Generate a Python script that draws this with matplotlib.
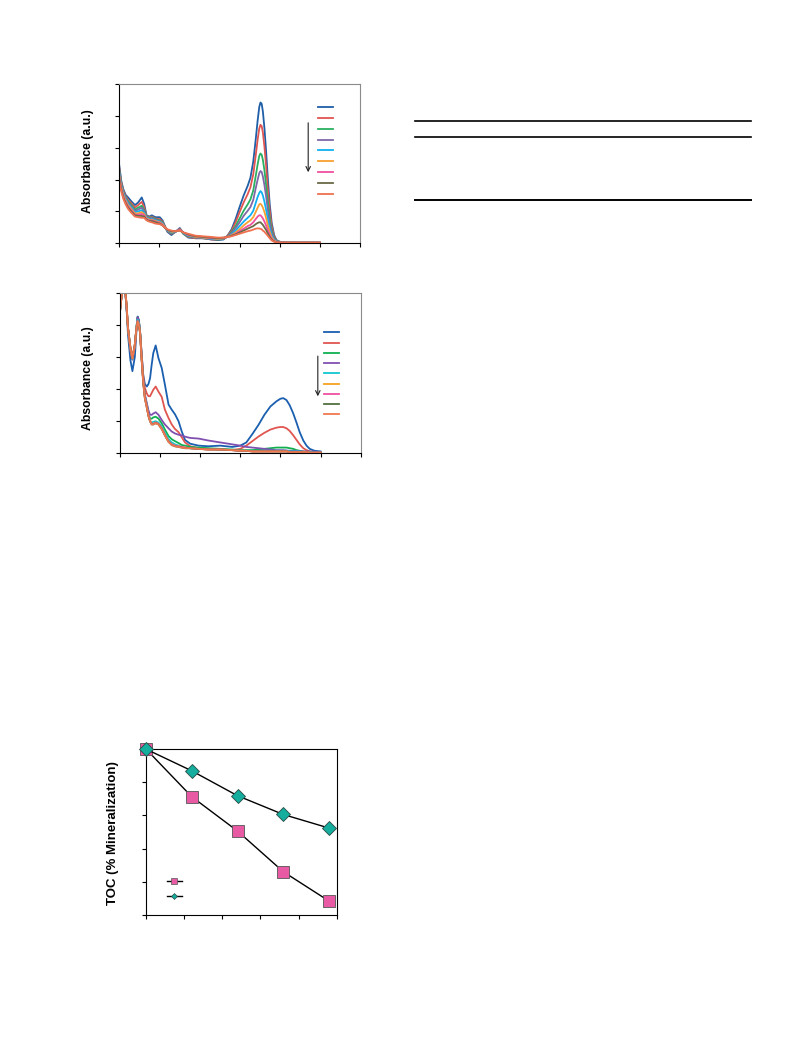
import matplotlib
matplotlib.use("Agg")
import matplotlib.pyplot as plt
from matplotlib.lines import Line2D

plt.rcParams['font.family'] = ['Liberation Sans', 'DejaVu Sans']

# ---- panel (a): UV-vis spectra, band near 553 nm ----
wl_a = [200, 205, 210, 216, 222, 230, 239, 247, 256, 262, 268, 275, 281, 290, 301,
        308, 313, 320, 330, 340, 351, 360, 372, 390, 410, 430, 445,
        460, 470, 480, 490, 500, 510, 520, 527, 534, 540, 545, 549, 552, 555, 558,
        562, 566, 570, 575, 580, 586, 592, 600, 615, 640, 700]
abs_a = [
    [1.22, 0.98, 0.85, 0.76, 0.72, 0.66, 0.60, 0.64, 0.72, 0.62, 0.44, 0.42, 0.44, 0.41, 0.41,
     0.36, 0.28, 0.18, 0.13, 0.18, 0.24, 0.15, 0.09, 0.08, 0.08, 0.06, 0.05,
     0.06, 0.12, 0.22, 0.38, 0.57, 0.75, 0.90, 1.03, 1.28, 1.62, 1.93, 2.14, 2.21, 2.19, 2.07,
     1.80, 1.45, 1.05, 0.62, 0.32, 0.13, 0.05, 0.025, 0.012, 0.01, 0.01],
    [1.18, 0.96, 0.83, 0.74, 0.68, 0.63, 0.56, 0.60, 0.65, 0.57, 0.43, 0.41, 0.42, 0.39, 0.38,
     0.34, 0.28, 0.19, 0.15, 0.18, 0.23, 0.15, 0.10, 0.08, 0.08, 0.06, 0.06,
     0.07, 0.12, 0.20, 0.33, 0.49, 0.64, 0.77, 0.88, 1.08, 1.37, 1.63, 1.80, 1.86, 1.84, 1.74,
     1.51, 1.22, 0.88, 0.52, 0.27, 0.11, 0.045, 0.022, 0.012, 0.01, 0.01],
    [1.15, 0.94, 0.81, 0.72, 0.66, 0.60, 0.53, 0.56, 0.59, 0.53, 0.42, 0.40, 0.41, 0.38, 0.36,
     0.33, 0.27, 0.20, 0.16, 0.18, 0.22, 0.15, 0.11, 0.09, 0.08, 0.07, 0.06,
     0.07, 0.11, 0.18, 0.27, 0.39, 0.51, 0.61, 0.69, 0.83, 1.05, 1.24, 1.37, 1.41, 1.39, 1.31,
     1.14, 0.92, 0.67, 0.40, 0.21, 0.09, 0.04, 0.02, 0.012, 0.01, 0.01],
    [1.13, 0.92, 0.80, 0.71, 0.64, 0.58, 0.51, 0.53, 0.56, 0.51, 0.41, 0.39, 0.40, 0.37, 0.35,
     0.32, 0.27, 0.20, 0.17, 0.18, 0.22, 0.16, 0.12, 0.09, 0.08, 0.07, 0.07,
     0.08, 0.11, 0.16, 0.24, 0.33, 0.43, 0.51, 0.57, 0.68, 0.86, 1.00, 1.10, 1.135, 1.12, 1.05,
     0.91, 0.74, 0.54, 0.32, 0.17, 0.075, 0.035, 0.02, 0.012, 0.01, 0.01],
    [1.10, 0.90, 0.78, 0.69, 0.62, 0.56, 0.49, 0.50, 0.52, 0.48, 0.40, 0.38, 0.38, 0.36, 0.34,
     0.31, 0.26, 0.20, 0.17, 0.19, 0.21, 0.16, 0.12, 0.10, 0.09, 0.07, 0.07,
     0.08, 0.10, 0.14, 0.20, 0.27, 0.34, 0.40, 0.44, 0.51, 0.63, 0.73, 0.79, 0.82, 0.80, 0.75,
     0.65, 0.53, 0.39, 0.23, 0.12, 0.055, 0.028, 0.018, 0.012, 0.01, 0.01],
    [1.07, 0.88, 0.76, 0.67, 0.60, 0.54, 0.47, 0.47, 0.49, 0.46, 0.39, 0.37, 0.37, 0.35, 0.33,
     0.30, 0.26, 0.21, 0.18, 0.19, 0.21, 0.17, 0.13, 0.10, 0.09, 0.08, 0.07,
     0.08, 0.10, 0.13, 0.17, 0.22, 0.28, 0.33, 0.36, 0.41, 0.49, 0.56, 0.61, 0.62, 0.60, 0.56,
     0.49, 0.40, 0.29, 0.18, 0.095, 0.045, 0.025, 0.016, 0.011, 0.01, 0.01],
    [1.04, 0.86, 0.74, 0.65, 0.58, 0.52, 0.45, 0.45, 0.46, 0.44, 0.38, 0.36, 0.36, 0.34, 0.32,
     0.29, 0.25, 0.21, 0.19, 0.19, 0.21, 0.17, 0.13, 0.11, 0.10, 0.08, 0.08,
     0.08, 0.10, 0.12, 0.15, 0.19, 0.23, 0.27, 0.29, 0.33, 0.38, 0.42, 0.44, 0.44, 0.42, 0.39,
     0.34, 0.28, 0.21, 0.13, 0.07, 0.035, 0.02, 0.014, 0.01, 0.01, 0.01],
    [1.01, 0.84, 0.72, 0.63, 0.56, 0.50, 0.44, 0.43, 0.43, 0.42, 0.37, 0.35, 0.35, 0.33, 0.31,
     0.28, 0.25, 0.21, 0.19, 0.19, 0.20, 0.17, 0.14, 0.11, 0.10, 0.09, 0.08,
     0.09, 0.10, 0.12, 0.14, 0.17, 0.20, 0.23, 0.25, 0.27, 0.30, 0.32, 0.33, 0.33, 0.31, 0.29,
     0.25, 0.21, 0.16, 0.10, 0.055, 0.03, 0.018, 0.012, 0.01, 0.01, 0.01],
    [0.98, 0.82, 0.70, 0.61, 0.54, 0.48, 0.42, 0.41, 0.40, 0.40, 0.36, 0.34, 0.33, 0.31, 0.30,
     0.28, 0.25, 0.22, 0.20, 0.19, 0.20, 0.17, 0.15, 0.12, 0.11, 0.10, 0.09,
     0.09, 0.10, 0.11, 0.13, 0.15, 0.17, 0.19, 0.20, 0.215, 0.23, 0.235, 0.233, 0.228, 0.22, 0.20,
     0.18, 0.15, 0.12, 0.08, 0.045, 0.025, 0.015, 0.01, 0.01, 0.01, 0.01],
]
colors_a = ['#1f5fa8', '#e05550', '#2ab060', '#8068a8', '#10b0f0',
            '#f8a030', '#f050a0', '#6a6a48', '#f07050']

# ---- panel (b): UV-vis spectra, band near 607 nm ----
wl_b = [200, 204, 208, 212, 216, 220, 226, 231, 237, 241, 244, 247, 250, 254, 258,
        262, 267, 271, 275, 279, 283, 289, 296, 304, 312, 321, 329, 337, 346, 354,
        362, 375, 396, 420, 450,
        480, 500, 515, 530, 545, 560, 575, 590, 600, 607, 615, 623, 632, 640, 648,
        657, 665, 673, 685, 700]
abs_b = [
    [2.35, 2.50, 2.60, 2.60, 2.30, 1.85, 1.45, 1.28, 1.50, 1.90, 2.13, 2.08, 1.90, 1.55, 1.22,
     1.08, 1.04, 1.08, 1.17, 1.38, 1.56, 1.68, 1.48, 1.33, 1.07, 0.76, 0.68, 0.61, 0.50, 0.34,
     0.21, 0.15, 0.12, 0.11, 0.12,
     0.10, 0.12, 0.17, 0.30, 0.44, 0.60, 0.73, 0.81, 0.85, 0.86, 0.83, 0.75, 0.62, 0.48, 0.33,
     0.20, 0.12, 0.07, 0.04, 0.03],
    [2.22, 2.45, 2.60, 2.60, 2.30, 1.95, 1.60, 1.46, 1.65, 1.95, 2.10, 2.05, 1.90, 1.55, 1.20,
     1.02, 0.93, 0.89, 0.89, 0.94, 0.99, 1.04, 0.96, 0.88, 0.68, 0.55, 0.45, 0.38, 0.33, 0.25,
     0.17, 0.11, 0.08, 0.07, 0.06,
     0.05, 0.07, 0.12, 0.19, 0.26, 0.32, 0.37, 0.40, 0.41, 0.41, 0.39, 0.35, 0.28, 0.21, 0.14,
     0.08, 0.05, 0.03, 0.02, 0.02],
    [2.21, 2.45, 2.60, 2.60, 2.32, 1.95, 1.62, 1.47, 1.67, 1.97, 2.12, 2.06, 1.90, 1.50, 1.13,
     0.90, 0.75, 0.62, 0.54, 0.54, 0.56, 0.57, 0.54, 0.47, 0.37, 0.27, 0.22, 0.19, 0.16, 0.13,
     0.12, 0.10, 0.09, 0.08, 0.07,
     0.06, 0.05, 0.05, 0.05, 0.06, 0.07, 0.08, 0.09, 0.09, 0.09, 0.09, 0.08, 0.07, 0.05, 0.04,
     0.03, 0.02, 0.02, 0.01, 0.01],
    [2.22, 2.45, 2.60, 2.60, 2.30, 1.95, 1.60, 1.46, 1.65, 1.96, 2.12, 2.06, 1.90, 1.50, 1.15,
     0.92, 0.78, 0.67, 0.60, 0.60, 0.62, 0.64, 0.60, 0.52, 0.45, 0.39, 0.34, 0.31, 0.29, 0.28,
     0.26, 0.24, 0.23, 0.20, 0.17,
     0.14, 0.12, 0.10, 0.09, 0.08, 0.07, 0.06, 0.05, 0.05, 0.05, 0.045, 0.04, 0.04, 0.04, 0.035,
     0.03, 0.03, 0.03, 0.025, 0.02],
    [2.21, 2.45, 2.60, 2.60, 2.33, 1.95, 1.63, 1.47, 1.68, 1.96, 2.08, 2.03, 1.89, 1.48, 1.12,
     0.88, 0.74, 0.60, 0.50, 0.48, 0.49, 0.50, 0.48, 0.42, 0.32, 0.22, 0.17, 0.14, 0.12, 0.10,
     0.09, 0.08, 0.07, 0.07, 0.06,
     0.05, 0.04, 0.04, 0.04, 0.04, 0.04, 0.04, 0.04, 0.04, 0.04, 0.04, 0.03, 0.03, 0.03, 0.03,
     0.02, 0.02, 0.02, 0.01, 0.01],
    [2.21, 2.45, 2.60, 2.60, 2.34, 1.95, 1.64, 1.48, 1.69, 1.95, 2.06, 2.01, 1.88, 1.47, 1.11,
     0.87, 0.72, 0.59, 0.51, 0.46, 0.46, 0.48, 0.46, 0.39, 0.29, 0.19, 0.14, 0.12, 0.11, 0.10,
     0.09, 0.08, 0.07, 0.06, 0.06,
     0.05, 0.04, 0.04, 0.03, 0.03, 0.03, 0.03, 0.03, 0.03, 0.03, 0.03, 0.02, 0.02, 0.02, 0.02,
     0.02, 0.02, 0.01, 0.01, 0.01],
    [2.21, 2.45, 2.60, 2.60, 2.34, 1.95, 1.64, 1.48, 1.69, 1.95, 2.06, 2.01, 1.88, 1.47, 1.11,
     0.87, 0.72, 0.59, 0.51, 0.46, 0.46, 0.48, 0.46, 0.39, 0.29, 0.19, 0.14, 0.12, 0.11, 0.10,
     0.09, 0.08, 0.07, 0.06, 0.06,
     0.05, 0.04, 0.04, 0.03, 0.03, 0.03, 0.03, 0.03, 0.03, 0.03, 0.03, 0.02, 0.02, 0.02, 0.02,
     0.02, 0.02, 0.01, 0.01, 0.01],
    [2.21, 2.45, 2.60, 2.60, 2.35, 1.95, 1.65, 1.48, 1.70, 1.94, 2.05, 2.00, 1.88, 1.46, 1.10,
     0.86, 0.71, 0.58, 0.50, 0.45, 0.45, 0.47, 0.45, 0.38, 0.28, 0.18, 0.13, 0.11, 0.10, 0.09,
     0.08, 0.08, 0.07, 0.06, 0.06,
     0.05, 0.04, 0.04, 0.03, 0.03, 0.03, 0.03, 0.03, 0.03, 0.03, 0.03, 0.02, 0.02, 0.02, 0.02,
     0.02, 0.02, 0.01, 0.01, 0.01],
    [2.21, 2.45, 2.60, 2.60, 2.35, 1.95, 1.65, 1.48, 1.70, 1.94, 2.05, 2.00, 1.88, 1.46, 1.10,
     0.86, 0.71, 0.58, 0.50, 0.45, 0.45, 0.47, 0.45, 0.38, 0.28, 0.18, 0.13, 0.11, 0.10, 0.09,
     0.08, 0.08, 0.07, 0.06, 0.06,
     0.05, 0.04, 0.04, 0.03, 0.03, 0.03, 0.03, 0.03, 0.03, 0.03, 0.03, 0.02, 0.02, 0.02, 0.02,
     0.02, 0.02, 0.01, 0.01, 0.01],
]
colors_b = ['#1a5fb0', '#e05550', '#10b050', '#8050b0', '#10c8d0',
            '#f8a020', '#f050a0', '#507040', '#f07850']

# ---- panel (c): TOC removal ----
time_min = [0, 60, 120, 180, 240]
toc_sq = [100, 71.3, 50.6, 26.1, 8.4]
toc_dia = [100, 86.9, 71.9, 60.6, 52.4]

fig = plt.figure(figsize=(7.93, 10.57), dpi=100)


def spectra_axes(rect, wl, curves, colors, leg_x, leg_y0, leg_step, arrow_x, arrow_y):
    ax = fig.add_axes(rect)
    for ys, c in zip(curves, colors):
        ax.plot(wl, ys, color=c, lw=1.3, solid_joinstyle='round')
    ax.set_xlim(200, 800)
    ax.set_ylim(0, 2.5)
    ax.set_xticks([200, 300, 400, 500, 600, 700, 800])
    ax.set_yticks([0, 0.5, 1.0, 1.5, 2.0, 2.5])
    ax.set_xticklabels([])
    ax.set_yticklabels([])
    ax.tick_params(direction='out', length=3, width=0.8, top=False, right=False)
    for s in ['top', 'right']:
        ax.spines[s].set_color('#8a8a8a')
    for s in ['left', 'bottom']:
        ax.spines[s].set_color('black')
    # legend handles without text
    for i, c in enumerate(colors):
        y = leg_y0 - i * leg_step
        ax.plot(leg_x, [y, y], color=c, lw=1.3, transform=ax.transAxes)
    ax.annotate('', xy=(arrow_x, arrow_y[1]), xytext=(arrow_x, arrow_y[0]),
                xycoords='axes fraction',
                arrowprops=dict(arrowstyle='->', lw=0.8, color='#222222', mutation_scale=8))
    return ax


ax1 = spectra_axes([0.1504, 0.7698, 0.3035, 0.1507], wl_a, abs_a, colors_a,
                   [0.826, 0.889], 0.857, 0.0685, 0.785, (0.774, 0.429))
ax1.text(-0.129, 0.515, 'Absorbance (a.u.)', transform=ax1.transAxes, rotation=90,
         ha='center', va='center', fontsize=8.8, fontweight='bold')

ax2 = spectra_axes([0.1513, 0.5711, 0.3035, 0.1519], wl_b, abs_b, colors_b,
                   [0.8496, 0.9107], 0.753, 0.0637, 0.822, (0.623, 0.338))
ax2.text(-0.132, 0.467, 'Absorbance (a.u.)', transform=ax2.transAxes, rotation=90,
         ha='center', va='center', fontsize=8.8, fontweight='bold')

# TOC panel
ax3 = fig.add_axes([0.1841, 0.1343, 0.2405, 0.1570])
ax3.plot(time_min, toc_sq, color='black', lw=1.0, marker='s', ms=8.4,
         mfc='#e85aa4', mec='#555555', mew=0.6, clip_on=False, zorder=3)
ax3.plot(time_min, toc_dia, color='black', lw=1.0, marker='D', ms=6.8,
         mfc='#14ad9e', mec='#2a4a45', mew=0.6, clip_on=False, zorder=4)
ax3.set_xlim(0, 250)
ax3.set_ylim(0, 100)
ax3.set_xticks([0, 50, 100, 150, 200, 250])
ax3.set_yticks([0, 20, 40, 60, 80, 100])
ax3.set_xticklabels([])
ax3.set_yticklabels([])
ax3.tick_params(direction='out', length=3, width=0.8, top=False, right=False)
for s in ax3.spines.values():
    s.set_color('black')
ax3.plot([0.1085, 0.187], [0.205, 0.205], color='black', lw=1.0, transform=ax3.transAxes)
ax3.plot([0.148], [0.205], marker='s', ms=3.8, mfc='#e85aa4', mec='#555555', mew=0.5,
         transform=ax3.transAxes)
ax3.plot([0.1085, 0.187], [0.116, 0.116], color='black', lw=1.0, transform=ax3.transAxes)
ax3.plot([0.148], [0.116], marker='D', ms=3.0, mfc='#14ad9e', mec='#2a4a45', mew=0.5,
         transform=ax3.transAxes)
ax3.text(-0.171, 0.497, 'TOC (% Mineralization)', transform=ax3.transAxes, rotation=90,
         ha='center', va='center', fontsize=9.5, fontweight='bold')

# table rules (text-free table)
for y, lw in [(0.8858, 1.2), (0.8707, 1.2), (0.8108, 1.4)]:
    fig.add_artist(Line2D([0.5233, 0.947], [y, y], color='black', lw=lw,
                          transform=fig.transFigure))

fig.savefig('out.png', dpi=100)
